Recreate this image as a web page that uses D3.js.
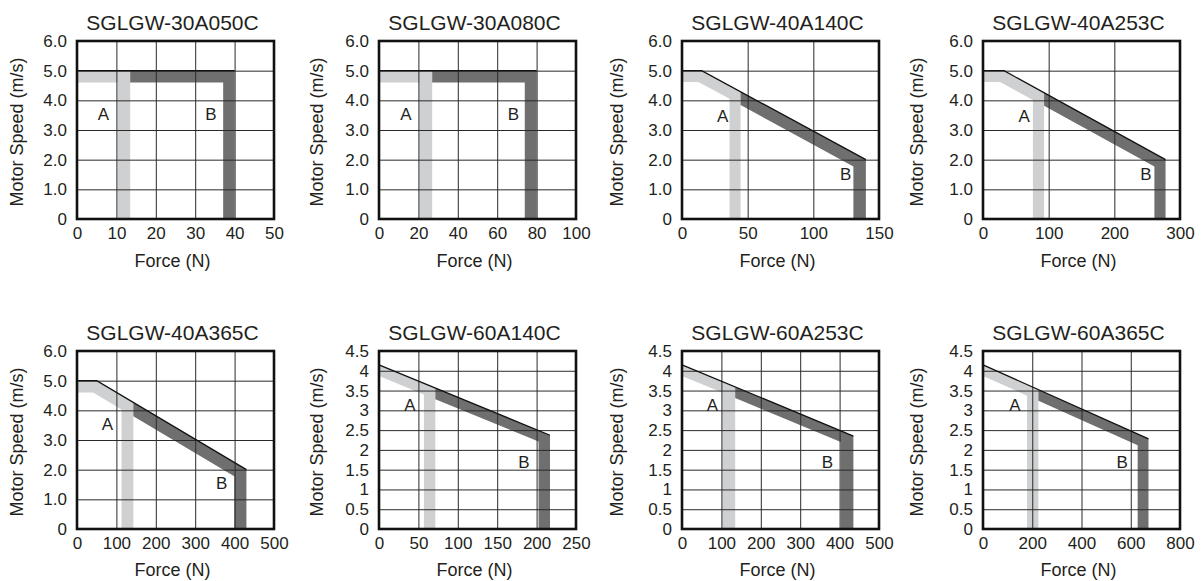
<!DOCTYPE html>
<html>
<head>
<meta charset="utf-8">
<script src="https://cdn.jsdelivr.net/npm/d3@7"></script>
<style>
  html, body { margin: 0; padding: 0; background: #fff; }
  svg { display: block; }
  text { font-family: "Liberation Sans", Arial, Helvetica, sans-serif; fill: #231f20; }
</style>
</head>
<body>
<svg id="chart" width="1201" height="581"></svg>
<script>
// ---------- DATA ----------
const titles = ["SGLGW-30A050C", "SGLGW-30A080C", "SGLGW-40A140C", "SGLGW-40A253C",
                "SGLGW-40A365C", "SGLGW-60A140C", "SGLGW-60A253C", "SGLGW-60A365C"];

const xTicks = [
  [0, 10, 20, 30, 40, 50],
  [0, 20, 40, 60, 80, 100],
  [0, 50, 100, 150],
  [0, 100, 200, 300],
  [0, 100, 200, 300, 400, 500],
  [0, 50, 100, 150, 200, 250],
  [0, 100, 200, 300, 400, 500],
  [0, 200, 400, 600, 800]
];

const yTicks6 = [0, 1, 2, 3, 4, 5, 6];
const yTickLabels6 = ["0", "1.0", "2.0", "3.0", "4.0", "5.0", "6.0"];
const yTicks45 = [0, 0.5, 1, 1.5, 2, 2.5, 3, 3.5, 4, 4.5];
const yTickLabels45 = ["0", "0.5", "1", "1.5", "2", "2.5", "3", "3.5", "4", "4.5"];
// which speed axis each chart uses (6 m/s or 4.5 m/s)
const speedAxis = ["6", "6", "6", "6", "6", "4.5", "4.5", "4.5"];

// Region A (light) outlines: [force N, speed m/s]
const bandA = [
  [[0,5],[13.5,5],[13.5,0],[10.3,0],[10.3,4.6],[0,4.6]],
  [[0,5],[27,5],[27,0],[20.5,0],[20.5,4.6],[0,4.6]],
  [[0,5],[15,5],[44.6,4.29],[44.6,0],[36.2,0],[36.2,4.05],[12.5,4.62],[0,4.62]],
  [[0,5],[32,5],[93,4.26],[93,0],[76,0],[76,4.01],[26,4.62],[0,4.62]],
  [[0,5],[50,5],[143,4.27],[143,0],[113,0],[113,4.03],[41,4.6],[0,4.6]],
  [[0,4.15],[71.5,3.56],[71.5,0],[57,0],[57,3.40],[0,3.87]],
  [[0,4.15],[135,3.59],[135,0],[102,0],[102,3.45],[0,3.87]],
  [[0,4.15],[225,3.52],[225,0],[179,0],[179,3.37],[0,3.87]]
];

// Region B (dark) outlines
const bandB = [
  [[13.5,5],[40,5],[40,0],[37.1,0],[37.1,4.6],[13.5,4.6]],
  [[27,5],[80,5],[80,0],[74,0],[74,4.6],[27,4.6]],
  [[44.6,4.29],[140,2],[140,0],[130.5,0],[130.5,1.77],[44.6,3.84]],
  [[93,4.26],[278,2],[278,0],[261,0],[261,1.77],[93,3.82]],
  [[143,4.27],[430,2],[430,0],[399,0],[399,1.78],[143,3.80]],
  [[71.5,3.56],[217,2.37],[217,0],[202.5,0],[202.5,2.21],[71.5,3.28]],
  [[135,3.59],[435,2.35],[435,0],[403,0],[403,2.20],[135,3.31]],
  [[225,3.52],[672,2.28],[672,0],[628,0],[628,2.12],[225,3.24]]
];

// Upper envelope (thin black line)
const envelope = [
  [[0,5],[40,5]],
  [[0,5],[80,5]],
  [[0,5],[15,5],[140,2]],
  [[0,5],[32,5],[278,2]],
  [[0,5],[50,5],[430,2]],
  [[0,4.15],[217,2.37]],
  [[0,4.15],[435,2.35]],
  [[0,4.15],[672,2.28]]
];

// Positions of the "A" and "B" labels (data coords)
const labelA = [[6.7,3.55],[13.7,3.55],[30.9,3.47],[62.6,3.47],[77,3.53],[39.3,3.15],[77,3.15],[130,3.15]];
const labelB = [[34,3.55],[68.2,3.55],[124.7,1.52],[248,1.52],[367,1.56],[184,1.7],[369,1.7],[565,1.7]];

// ---------- LAYOUT ----------
const colLeft = [77, 379, 682, 983];
const rowTop = [41, 351];
const plotW = 197, plotH = 178;
const forceOffset = [41.5, 41];
const colorA = "#cfd0d2", colorB = "#6f6f70";

const svg = d3.select("#chart");

titles.forEach((title, i) => {
  const col = i % 4, row = Math.floor(i / 4);
  const left = colLeft[col], top = rowTop[row];
  const xt = xTicks[i];
  const yt = speedAxis[i] === "6" ? yTicks6 : yTicks45;
  const ytl = speedAxis[i] === "6" ? yTickLabels6 : yTickLabels45;

  const x = d3.scaleLinear().domain([0, xt[xt.length - 1]]).range([0, plotW]);
  const y = d3.scaleLinear().domain([0, yt[yt.length - 1]]).range([plotH, 0]);

  const g = svg.append("g").attr("transform", `translate(${left},${top})`);

  const line = d3.line().x(d => x(d[0])).y(d => y(d[1]));

  // bands
  g.append("path").attr("d", line(bandA[i]) + "Z").attr("fill", colorA);
  g.append("path").attr("d", line(bandB[i]) + "Z").attr("fill", colorB);

  // grid + tick labels via axes
  const xa = g.append("g").attr("transform", `translate(0,${plotH})`)
    .call(d3.axisBottom(x).tickValues(xt).tickSize(-plotH).tickPadding(8).tickFormat(d3.format("d")));
  const ya = g.append("g")
    .call(d3.axisLeft(y).tickValues(yt).tickSize(-plotW).tickPadding(10).tickFormat((d, k) => ytl[k]));
  [xa, ya].forEach(a => {
    a.select(".domain").remove();
    a.selectAll(".tick line").attr("stroke", "#2a2a2a").attr("stroke-width", 1);
    a.selectAll(".tick text").attr("font-size", 17).attr("fill", "#231f20")
      .attr("font-family", "'Liberation Sans', Arial, sans-serif");
  });

  // envelope
  g.append("path").attr("d", line(envelope[i])).attr("fill", "none")
    .attr("stroke", "#111").attr("stroke-width", 1.3);

  // border
  g.append("rect").attr("x", 0).attr("y", 0).attr("width", plotW).attr("height", plotH)
    .attr("fill", "none").attr("stroke", "#111").attr("stroke-width", 2.6);

  // A / B labels
  g.append("text").attr("x", x(labelA[i][0])).attr("y", y(labelA[i][1]))
    .attr("text-anchor", "middle").attr("dy", "0.36em").attr("font-size", 17).text("A");
  g.append("text").attr("x", x(labelB[i][0])).attr("y", y(labelB[i][1]))
    .attr("text-anchor", "middle").attr("dy", "0.36em").attr("font-size", 17).text("B");

  // title
  g.append("text").attr("x", plotW / 2 - 3).attr("y", -19).attr("dy", "0.36em")
    .attr("text-anchor", "middle").attr("font-size", 21).text(title);

  // x axis title
  g.append("text").attr("x", plotW / 2 - 3).attr("y", plotH + forceOffset[row]).attr("dy", "0.36em")
    .attr("text-anchor", "middle").attr("font-size", 18).text("Force (N)");

  // y axis title
  g.append("text").attr("transform", `translate(${17 + col * 300 - left},${plotH / 2 + 2}) rotate(-90)`)
    .attr("dy", "0.36em").attr("text-anchor", "middle").attr("font-size", 18).text("Motor Speed (m/s)");
});
</script>
</body>
</html>
